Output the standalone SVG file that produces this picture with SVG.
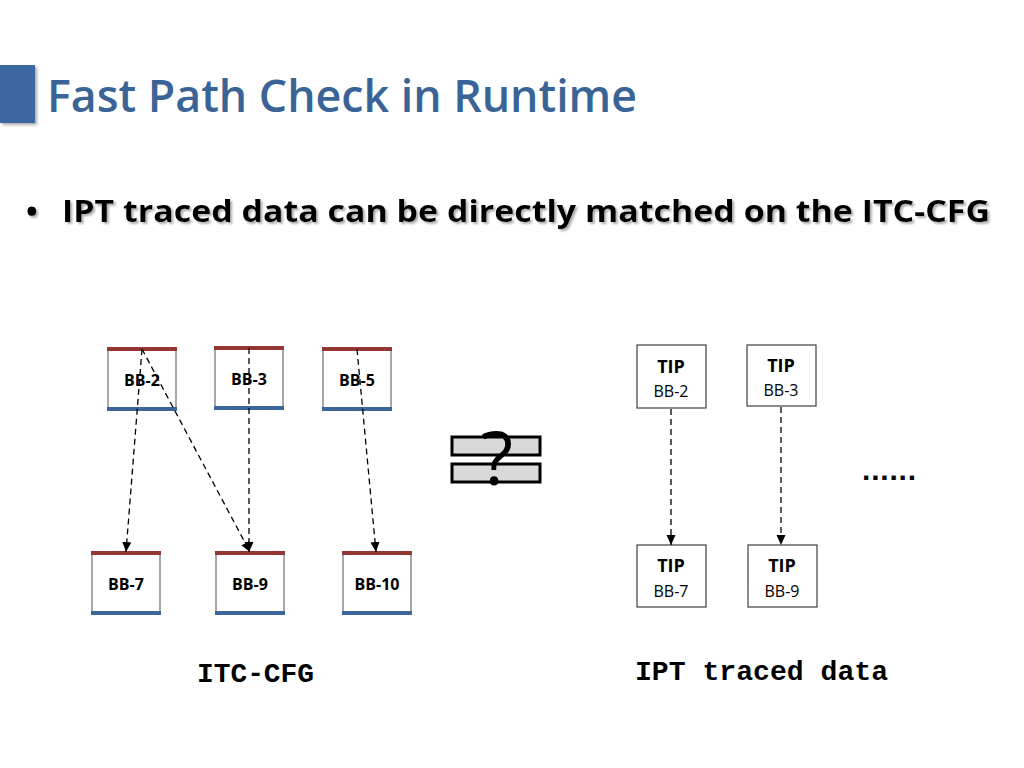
<svg xmlns="http://www.w3.org/2000/svg" width="1024" height="768" viewBox="0 0 1024 768">
<style>
.title{font-family:"Open Sans","Liberation Sans",sans-serif;font-weight:600;font-size:46px;fill:#3a6496}
.bullet{font-family:"Open Sans","Liberation Sans",sans-serif;font-weight:700;font-size:31px;fill:#000}
.bb{font-family:"Open Sans","Liberation Sans",sans-serif;font-weight:700;font-size:16px;fill:#000}
.tip{font-family:"Open Sans","Liberation Sans",sans-serif;font-weight:700;font-size:18px;fill:#000}
.tipbb{font-family:"Open Sans","Liberation Sans",sans-serif;font-weight:400;font-size:16px;fill:#000}
.mono{font-family:"Liberation Mono","Courier New",monospace;font-weight:700;font-size:28px;fill:#000}
.box{fill:#fff;stroke:#6f6f6f;stroke-width:1.2}
.tbox{fill:#fff;stroke:#404040;stroke-width:1.2}
.red{stroke:#943634;stroke-width:4}
.blue{stroke:#3c659a;stroke-width:4}
.edge{stroke:#000;stroke-width:1.3;stroke-dasharray:6 4;fill:none;marker-end:url(#arr)}
</style>
<defs>
<marker id="arr" markerUnits="userSpaceOnUse" markerWidth="10" markerHeight="10" viewBox="0 0 10 10" refX="10" refY="5" orient="auto">
<path d="M0,0.5 L10,5 L0,9.5 Z" fill="#000"/>
</marker>
<filter id="sh" x="-5%" y="-20%" width="110%" height="150%">
<feDropShadow dx="2" dy="2" stdDeviation="1" flood-color="#999" flood-opacity="0.8"/>
</filter>
<filter id="bsh" x="-20%" y="-20%" width="150%" height="150%">
<feDropShadow dx="2" dy="2" stdDeviation="1.5" flood-color="#888" flood-opacity="0.7"/>
</filter>
</defs>
<rect width="1024" height="768" fill="#fff"/>
<g id="title">
<rect x="0" y="65" width="35" height="58" fill="#3a67a0" filter="url(#bsh)"/>
<text class="title" x="47" y="112" textLength="590" lengthAdjust="spacingAndGlyphs">Fast Path Check in Runtime</text>
</g>
<g id="bullet" filter="url(#sh)">
<text class="bullet" x="26" y="222">•</text>
<text class="bullet" x="62" y="222" textLength="928" lengthAdjust="spacingAndGlyphs">IPT traced data can be directly matched on the ITC-CFG</text>
</g>
<g id="bb2">
<rect class="box" x="108" y="349" width="68" height="60"/>
<line class="red" x1="107" y1="349" x2="177" y2="349"/>
<line class="blue" x1="107" y1="409" x2="177" y2="409"/>
<text class="bb" x="142" y="386" text-anchor="middle">BB-2</text>
</g>
<g id="bb3">
<rect class="box" x="215" y="348" width="68" height="60"/>
<line class="red" x1="214" y1="348" x2="284" y2="348"/>
<line class="blue" x1="214" y1="408" x2="284" y2="408"/>
<text class="bb" x="249" y="385" text-anchor="middle">BB-3</text>
</g>
<g id="bb5">
<rect class="box" x="323" y="349" width="68" height="60"/>
<line class="red" x1="322" y1="349" x2="392" y2="349"/>
<line class="blue" x1="322" y1="409" x2="392" y2="409"/>
<text class="bb" x="357" y="386" text-anchor="middle">BB-5</text>
</g>
<g id="bb7">
<rect class="box" x="92" y="553" width="68" height="60"/>
<line class="red" x1="91" y1="553" x2="161" y2="553"/>
<line class="blue" x1="91" y1="613" x2="161" y2="613"/>
<text class="bb" x="126" y="590" text-anchor="middle">BB-7</text>
</g>
<g id="bb9">
<rect class="box" x="216" y="553" width="68" height="60"/>
<line class="red" x1="215" y1="553" x2="285" y2="553"/>
<line class="blue" x1="215" y1="613" x2="285" y2="613"/>
<text class="bb" x="250" y="590" text-anchor="middle">BB-9</text>
</g>
<g id="bb10">
<rect class="box" x="343" y="553" width="68" height="60"/>
<line class="red" x1="342" y1="553" x2="412" y2="553"/>
<line class="blue" x1="342" y1="613" x2="412" y2="613"/>
<text class="bb" x="377" y="590" text-anchor="middle">BB-10</text>
</g>
<g id="neq">
<rect x="452" y="437" width="88" height="18" fill="#d9d9d9" stroke="#000" stroke-width="3"/>
<rect x="452" y="464" width="88" height="18" fill="#d9d9d9" stroke="#000" stroke-width="3"/>
<text x="497" y="485" text-anchor="middle" font-family="'Open Sans','Liberation Sans',sans-serif" font-weight="400" font-size="74" fill="#000">?</text>
</g>
<g id="tip2">
<rect class="tbox" x="637" y="345" width="69" height="63"/>
<text class="tip" x="671" y="373" text-anchor="middle">TIP</text>
<text class="tipbb" x="671" y="397" text-anchor="middle">BB-2</text>
</g>
<g id="tip3">
<rect class="tbox" x="747" y="345" width="69" height="61"/>
<text class="tip" x="781" y="372" text-anchor="middle">TIP</text>
<text class="tipbb" x="781" y="396" text-anchor="middle">BB-3</text>
</g>
<g id="tip7">
<rect class="tbox" x="637" y="545" width="69" height="62"/>
<text class="tip" x="671" y="572" text-anchor="middle">TIP</text>
<text class="tipbb" x="671" y="597" text-anchor="middle">BB-7</text>
</g>
<g id="tip9">
<rect class="tbox" x="748" y="545" width="69" height="62"/>
<text class="tip" x="782" y="572" text-anchor="middle">TIP</text>
<text class="tipbb" x="782" y="597" text-anchor="middle">BB-9</text>
</g>
<g id="connectors">
<line class="edge" x1="142" y1="349" x2="126" y2="552"/>
<line class="edge" x1="142" y1="349" x2="250" y2="552"/>
<line class="edge" x1="249" y1="348" x2="249" y2="552"/>
<line class="edge" x1="357" y1="349" x2="376" y2="552"/>
<line class="edge" x1="671" y1="409" x2="671" y2="545"/>
<line class="edge" x1="781" y1="407" x2="781" y2="545"/>
</g>
<g id="dots">
<text x="862" y="480" font-family="'Liberation Sans',sans-serif" font-weight="700" font-size="30" fill="#000" textLength="54" lengthAdjust="spacing">......</text>
</g>
<g id="labels">
<text class="mono" x="197" y="682" textLength="117" lengthAdjust="spacingAndGlyphs">ITC-CFG</text>
<text class="mono" x="635" y="680" textLength="253" lengthAdjust="spacingAndGlyphs">IPT traced data</text>
</g>
</svg>
